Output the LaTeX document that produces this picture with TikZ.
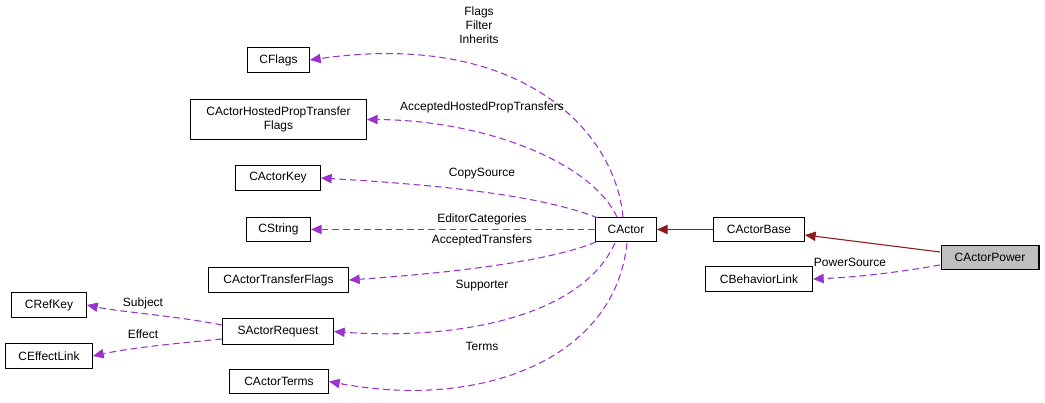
\documentclass[tikz,border=0pt]{standalone}
\usepackage{fontspec}
\setmainfont{Liberation Sans}
\usetikzlibrary{arrows.meta}
\begin{document}
\begin{tikzpicture}[x=0.75pt,y=-0.75pt,
  box/.style={draw,thick,inner sep=0pt,anchor=center,align=center,font=\fontsize{9}{10.5}\selectfont},
  lbl/.style={font=\fontsize{9}{10.5}\selectfont,align=center},
  use/.style={draw={rgb,255:red,154;green,50;blue,205},dashed,dash pattern=on 5pt off 3pt,thick,-{Triangle[length=8pt,width=7pt,fill={rgb,255:red,154;green,50;blue,205}]}},
  inh/.style={draw={rgb,255:red,139;green,26;blue,26},thick,-{Triangle[length=8pt,width=7pt,fill={rgb,255:red,139;green,26;blue,26}]}}]
\useasboundingbox (0,0) rectangle (1045,403);
\newcommand{\bx}[6]{\node[box,minimum width=#3*0.75pt-0.8pt,minimum height=#4*0.75pt-0.8pt] (#1) at (#2) {#6};}
\bx{flags}{278.5,60}{63}{26}{}{CFlags}
\bx{hosted}{278.5,119.5}{177}{41}{}{CActorHostedPropTransfer\\Flags}
\bx{key}{278,178}{86}{26}{}{CActorKey}
\bx{str}{278.5,229.5}{65}{25}{}{CString}
\bx{tf}{278.5,280}{141}{26}{}{CActorTransferFlags}
\bx{ref}{49,305}{76}{26}{}{CRefKey}
\bx{req}{278,331.5}{112}{27}{}{SActorRequest}
\bx{eff}{49,356}{88}{26}{}{CEffectLink}
\bx{terms}{279,381.5}{100}{25}{}{CActorTerms}
\bx{actor}{626,229.5}{62}{25}{}{CActor}
\bx{base}{759,229.5}{92}{25}{}{CActorBase}
\bx{beh}{759,279}{108}{26}{}{CBehaviorLink}
\node[box,fill={rgb,255:red,191;green,191;blue,191},minimum width=99pt*0.75-0.8pt,minimum height=24pt*0.75] (power) at (990,257.5) {CActorPower};
\coordinate (pw) at (940,252);
\draw[inh] (pw) -- (805,235);
\draw[inh] (base) -- (actor);
\draw[use] (940,265) .. controls (900,272) and (860,277) .. (beh.east);
\node[lbl] at (850,262) {PowerSource};
\draw[use] (623,217) .. controls (615,130) and (520,30) .. (flags.east);
\node[lbl] at (479,25) {Flags\\Filter\\Inherits};
\draw[use] (617,217) .. controls (590,160) and (480,120) .. (hosted.east);
\node[lbl] at (482,107) {AcceptedHostedPropTransfers};
\draw[use] (598,218) .. controls (540,195) and (440,185) .. (key.east);
\node[lbl] at (482,174) {CopySource};
\draw[use] (actor.west) -- (str.east);
\node[lbl] at (482,219) {EditorCategories};
\draw[use] (596,242) .. controls (540,265) and (420,275) .. (tf.east);
\node[lbl] at (482,240) {AcceptedTransfers};
\draw[use] (615,243) .. controls (580,320) and (450,340) .. (req.east);
\node[lbl] at (482,286) {Supporter};
\draw[use] (627,243) .. controls (615,360) and (480,410) .. (terms.east);
\node[lbl] at (482,346) {Terms};
\draw[use] (222,325) .. controls (170,315) and (120,312) .. (ref.east);
\node[lbl] at (143,303) {Subject};
\draw[use] (222,339) .. controls (170,344) and (130,348) .. (eff.east);
\node[lbl] at (143,334) {Effect};
\end{tikzpicture}
\end{document}
